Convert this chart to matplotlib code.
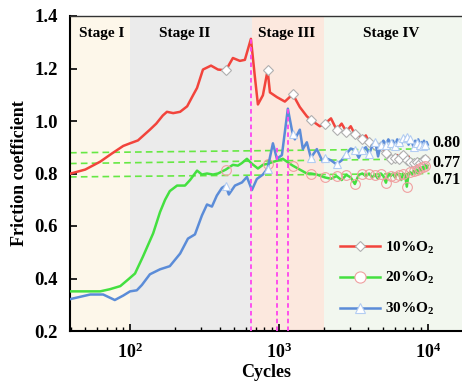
import numpy as np
import matplotlib
matplotlib.use('Agg')
import matplotlib.pyplot as plt
import matplotlib.transforms as mtransforms
from matplotlib.ticker import FixedLocator, FixedFormatter, LogLocator, NullFormatter

plt.rcParams['font.family'] = ['Liberation Serif', 'DejaVu Serif']
plt.rcParams['font.weight'] = 'bold'
plt.rcParams['mathtext.fontset'] = 'custom'
plt.rcParams['mathtext.rm'] = 'Liberation Serif:bold'
plt.rcParams['mathtext.bf'] = 'Liberation Serif:bold'
plt.rcParams['mathtext.it'] = 'Liberation Serif:bold:italic'

# ---------------- data ----------------
tail_cycles = list(range(2040, 10000, 200)) + [10000]

red_head_c = [40, 50, 63, 75, 90, 100, 113, 136, 150, 166, 177, 195, 217, 242, 265, 282, 309,
              350, 390, 440, 491, 547, 591, 649, 690, 723, 781, 840, 871, 970, 1097, 1240,
              1383, 1541, 1640, 1884]
red_head_v = [0.80, 0.815, 0.845, 0.875, 0.905, 0.915, 0.926, 0.967, 0.99, 1.021, 1.035,
              1.03, 1.035, 1.056, 1.098, 1.126, 1.196, 1.211, 1.196, 1.193, 1.24, 1.229,
              1.233, 1.313, 1.168, 1.063, 1.098, 1.193, 1.109, 1.091, 1.074, 1.102, 1.053,
              1.018, 1.004, 0.98]
red_tail_v = [0.99, 1.01, 0.967, 0.99, 0.96, 0.98, 0.95, 0.945, 0.93, 0.945,
              0.92, 0.905, 0.91, 0.895, 0.905, 0.895, 0.88, 0.865, 0.855, 0.845,
              0.86, 0.87, 0.855, 0.875, 0.87, 0.855, 0.85, 0.865, 0.845, 0.85,
              0.84, 0.835, 0.845, 0.83, 0.84, 0.835, 0.85, 0.84, 0.855, 0.85, 0.86]

green_head_c = [40, 63, 73, 86, 97, 108, 122, 143, 159, 172, 185, 207, 234, 253, 282, 304,
                329, 361, 390, 440, 491, 531, 565, 610, 659, 723, 781, 840, 912, 1064, 1186,
                1240, 1342, 1541, 1640, 1800]
green_head_v = [0.351, 0.351, 0.359, 0.371, 0.396, 0.419, 0.483, 0.572, 0.653, 0.70, 0.733,
                0.754, 0.754, 0.775, 0.811, 0.796, 0.80, 0.796, 0.80, 0.815, 0.833, 0.83,
                0.84, 0.856, 0.837, 0.819, 0.833, 0.837, 0.844, 0.856, 0.837, 0.83, 0.819,
                0.80, 0.80, 0.796]
green_tail_v = [0.785, 0.78, 0.79, 0.775, 0.795, 0.785, 0.76, 0.795, 0.80, 0.79,
                0.80, 0.785, 0.795, 0.78, 0.80, 0.79, 0.765, 0.80, 0.79, 0.80,
                0.785, 0.80, 0.795, 0.775, 0.80, 0.795, 0.75, 0.80, 0.805, 0.795,
                0.81, 0.80, 0.815, 0.805, 0.82, 0.81, 0.825, 0.815, 0.83, 0.82, 0.83]

blue_head_c = [40, 54, 66, 79, 90, 100, 111, 120, 136, 159, 185, 217, 245, 273, 304, 329,
               355, 383, 414, 440, 461, 507, 565, 610, 659, 711, 781, 840, 912, 970, 1048,
               1149, 1222, 1240, 1280, 1383, 1449, 1541, 1640, 1800, 1972]
blue_head_v = [0.322, 0.339, 0.339, 0.318, 0.335, 0.351, 0.355, 0.375, 0.416, 0.435, 0.447,
               0.495, 0.552, 0.568, 0.64, 0.682, 0.674, 0.716, 0.745, 0.754, 0.72, 0.754,
               0.766, 0.787, 0.737, 0.779, 0.796, 0.819, 0.915, 0.856, 0.870, 1.047, 0.967,
               0.95, 0.93, 0.967, 0.893, 0.919, 0.86, 0.893, 0.844]
blue_tail_v = [0.86, 0.85, 0.835, 0.85, 0.875, 0.895, 0.89, 0.86, 0.89, 0.90,
               0.875, 0.905, 0.92, 0.865, 0.91, 0.925, 0.91, 0.93, 0.915, 0.925,
               0.905, 0.93, 0.92, 0.91, 0.935, 0.92, 0.94, 0.91, 0.93, 0.92,
               0.90, 0.925, 0.915, 0.93, 0.91, 0.92, 0.905, 0.925, 0.91, 0.92, 0.91]

series_labels = ['10%O$_2$', '20%O$_2$', '30%O$_2$']
marker_cycles = set(range(440, 10000, 400))

stage_names = ['Stage I', 'Stage II', 'Stage III', 'Stage IV']
stage_bounds = [39.5, 100, 659, 2000, 17000]
stage_label_x = [64, 234, 1132, 5650]

vline_x = [650, 970, 1160]
vline_top = [1.313, 0.90, 1.047]

ref_line_y0 = [0.879, 0.838, 0.787]
ref_line_y1 = [0.894, 0.856, 0.800]
ref_texts = ['0.80', '0.77', '0.71']
ref_text_y = [0.916, 0.841, 0.775]

yticks = [0.2, 0.4, 0.6, 0.8, 1.0, 1.2, 1.4]
xticks = [100, 1000, 10000]
xticklabels = [r'$\mathbf{10^2}$', r'$\mathbf{10^3}$', r'$\mathbf{10^4}$']

# ---------------- figure ----------------
fig = plt.figure(figsize=(4.62, 3.87), dpi=100)
ax = fig.add_axes([70/462, 56/387, 392/462, 315/387])
ax.set_xscale('log')
ax.set_xlim(stage_bounds[0], stage_bounds[-1])
ax.set_ylim(0.2, 1.4)

stage_colors = ['#fdf7ea', '#ebebeb', '#fce8de', '#f2f7ef']
for i in range(4):
    ax.axvspan(stage_bounds[i], stage_bounds[i+1], color=stage_colors[i], lw=0, zorder=0)
trans = mtransforms.blended_transform_factory(ax.transData, ax.transAxes)
for name, xx in zip(stage_names, stage_label_x):
    ax.text(xx, 0.945, name, transform=trans, ha='center', va='center',
            fontsize=11, fontweight='bold')

# reference dashed lines
for y0, y1 in zip(ref_line_y0, ref_line_y1):
    ax.plot([39.5, 10300], [y0, y1], color='#66e844', ls=(0, (4, 2.5)), lw=1.2, zorder=2)
for t, yy in zip(ref_texts, ref_text_y):
    ax.text(10700, yy, t, ha='left', va='center', fontsize=11.5, fontweight='bold', zorder=6)

# vertical magenta lines
for xx, top in zip(vline_x, vline_top):
    ax.plot([xx, xx], [0.2, top], color='#ff44ee', ls=(0, (2.5, 1.8)), lw=1.3, zorder=4)

def build(head_c, head_v, tail_v):
    c = np.array(list(head_c) + tail_cycles, dtype=float)
    v = np.array(list(head_v) + list(tail_v), dtype=float)
    return c, v

styles = [
    dict(color='#f2443c', marker='D', ms=4.8, mfc='white', mec='#b0b0b0', mew=0.8),
    dict(color='#44e040', marker='o', ms=7, mfc='none', mec='#f0a0a0', mew=0.8),
    dict(color='#5b8cd8', marker='^', ms=6, mfc='white', mec='#b3cdf2', mew=0.8),
]
data = [build(red_head_c, red_head_v, red_tail_v),
        build(green_head_c, green_head_v, green_tail_v),
        build(blue_head_c, blue_head_v, blue_tail_v)]
handles = []
for (c, v), st, lab in zip(data, styles, series_labels):
    mk = [i for i, cc in enumerate(c) if int(cc) in marker_cycles]
    h, = ax.plot(c, v, lw=1.8, markevery=mk, label=lab, zorder=3, **st)
    handles.append(h)

leg = ax.legend(handles=handles, loc='upper left', bbox_to_anchor=(0.69, 0.29),
                frameon=False, fontsize=11, handlelength=2.6, handletextpad=0.3,
                labelspacing=0.95, borderpad=0, borderaxespad=0)
for txt in leg.get_texts():
    txt.set_fontweight('bold')
for lh in leg.get_lines():
    lh.set_markerfacecolor('white')
    lh.set_markersize(lh.get_markersize() * 1.15)

# axes styling
ax.set_yticks(yticks)
ax.set_yticklabels(['%.1f' % t for t in yticks])
ax.xaxis.set_major_locator(FixedLocator(xticks))
ax.xaxis.set_major_formatter(FixedFormatter(xticklabels))
ax.xaxis.set_minor_locator(LogLocator(base=10, subs=np.arange(2, 10), numticks=20))
ax.xaxis.set_minor_formatter(NullFormatter())
ax.tick_params(axis='both', which='major', direction='in', length=5, width=1.2,
               top=False, right=False)
ax.tick_params(axis='x', which='minor', direction='in', length=3, width=1, top=False)
ax.tick_params(axis='y', labelsize=13.5, pad=9)
ax.tick_params(axis='x', labelsize=13, pad=8)
for lab in ax.get_yticklabels():
    lab.set_fontweight('bold')

for s in ['left', 'bottom']:
    ax.spines[s].set_linewidth(1.5)
ax.spines['top'].set_linewidth(1.0)
ax.spines['top'].set_color('#333333')
ax.spines['right'].set_visible(False)

ax.set_ylabel('Friction coefficient', fontsize=13, fontweight='bold', labelpad=4)
ax.set_xlabel('Cycles', fontsize=13, fontweight='bold', labelpad=2)

fig.savefig('out.png', dpi=100)
